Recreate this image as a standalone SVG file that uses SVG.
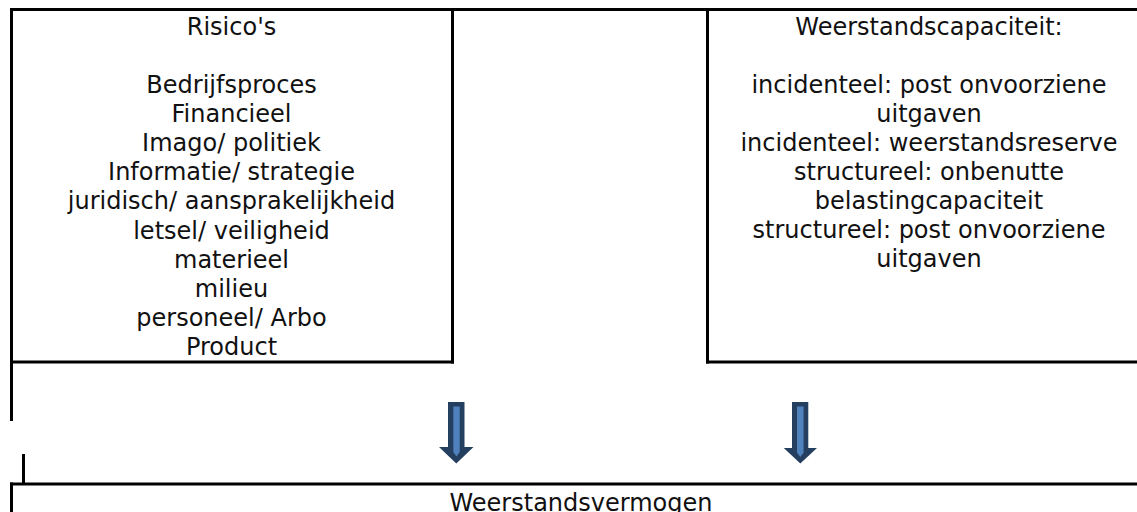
<svg xmlns="http://www.w3.org/2000/svg" width="1137" height="512" viewBox="0 0 1137 512">
<style>
.ln{stroke:#000;stroke-width:3;fill:none;stroke-linecap:butt}
.t{font-family:"DejaVu Sans",Verdana,sans-serif;font-size:24px;fill:#111;text-anchor:middle}
.ad{fill:#243F60}
.al{fill:#4F81BD}
</style>
<rect width="1137" height="512" fill="#fff"/>
<g id="frame">
<line class="ln" x1="10" y1="9.5" x2="1137" y2="9.5"/>
<line class="ln" x1="11.5" y1="8" x2="11.5" y2="421"/>
<line class="ln" x1="23.5" y1="454" x2="23.5" y2="484"/>
</g>
<g id="risicos">
<line class="ln" x1="452.5" y1="8" x2="452.5" y2="363.5"/>
<line class="ln" x1="10" y1="362" x2="454" y2="362"/>
<text class="t" x="231.5" y="35">Risico's</text>
<text class="t" x="231.5" y="93">Bedrijfsproces</text>
<text class="t" x="231.5" y="122">Financieel</text>
<text class="t" x="231.5" y="151">Imago/ politiek</text>
<text class="t" x="231.5" y="180">Informatie/ strategie</text>
<text class="t" x="231.5" y="209">juridisch/ aansprakelijkheid</text>
<text class="t" x="231.5" y="239">letsel/ veiligheid</text>
<text class="t" x="231.5" y="268">materieel</text>
<text class="t" x="231.5" y="297">milieu</text>
<text class="t" x="231.5" y="326">personeel/ Arbo</text>
<text class="t" x="231.5" y="355">Product</text>
</g>
<g id="weerstandscapaciteit">
<line class="ln" x1="707.5" y1="8" x2="707.5" y2="363.5"/>
<line class="ln" x1="706" y1="362" x2="1137" y2="362"/>
<text class="t" x="929" y="35">Weerstandscapaciteit:</text>
<text class="t" x="929" y="93">incidenteel: post onvoorziene</text>
<text class="t" x="929" y="122">uitgaven</text>
<text class="t" x="929" y="151">incidenteel: weerstandsreserve</text>
<text class="t" x="929" y="180">structureel: onbenutte</text>
<text class="t" x="929" y="209">belastingcapaciteit</text>
<text class="t" x="929" y="238">structureel: post onvoorziene</text>
<text class="t" x="929" y="267">uitgaven</text>
</g>
<g id="weerstandsvermogen">
<line class="ln" x1="10" y1="484" x2="1137" y2="484"/>
<line class="ln" x1="11.5" y1="482.5" x2="11.5" y2="512"/>
<text class="t" x="581" y="511">Weerstandsvermogen</text>
</g>
<g id="connectors">
<polygon class="ad" points="448,402 464.5,402 464.5,447 473.5,447 456.3,463.5 439,447 448,447"/>
<polygon class="al" points="453.3,406.5 459.7,406.5 459.7,452 456.5,456.5 453.3,452"/>
<polygon class="ad" points="792,402 808.3,402 808.3,448 817,448 800.3,463.5 783.8,448 792,448"/>
<polygon class="al" points="797,406.5 803.6,406.5 803.6,452.5 800.3,457 797,452.5"/>
</g>
</svg>
